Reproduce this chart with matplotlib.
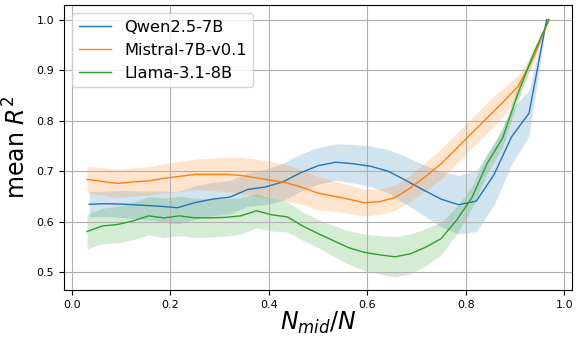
import numpy as np
import matplotlib
matplotlib.use("Agg")
import matplotlib.pyplot as plt

# Qwen2.5-7B (28 layers)
qwen_x = [i / 28 for i in range(1, 28)]
qwen_mean = [0.635, 0.636, 0.635, 0.633, 0.631, 0.628, 0.638, 0.645, 0.649, 0.664,
             0.669, 0.679, 0.697, 0.711, 0.718, 0.715, 0.710, 0.700, 0.682, 0.663,
             0.645, 0.634, 0.641, 0.693, 0.768, 0.815, 1.0]
qwen_std = [0.025, 0.025, 0.027, 0.028, 0.030, 0.032, 0.033, 0.033, 0.033, 0.033,
            0.035, 0.037, 0.037, 0.036, 0.036, 0.038, 0.040, 0.043, 0.047, 0.050,
            0.055, 0.058, 0.060, 0.060, 0.055, 0.045, 0.003]

# Mistral-7B-v0.1 (32 layers)
mistral_x = [i / 32 for i in range(1, 32)]
mistral_mean = [0.684, 0.680, 0.676, 0.679, 0.681, 0.686, 0.690, 0.694, 0.694, 0.694,
                0.692, 0.687, 0.682, 0.677, 0.668, 0.657, 0.651, 0.645, 0.638, 0.640,
                0.648, 0.667, 0.690, 0.715, 0.745, 0.776, 0.806, 0.836, 0.868, 0.925,
                1.0]
mistral_std = [0.027, 0.027, 0.028, 0.028, 0.028, 0.029, 0.030, 0.030, 0.032, 0.034,
               0.036, 0.037, 0.037, 0.036, 0.034, 0.033, 0.030, 0.028, 0.026, 0.025,
               0.025, 0.026, 0.028, 0.030, 0.030, 0.030, 0.030, 0.028, 0.022, 0.010,
               0.002]

# Llama-3.1-8B (32 layers)
llama_x = [i / 32 for i in range(1, 32)]
llama_mean = [0.581, 0.592, 0.595, 0.602, 0.612, 0.608, 0.612, 0.608, 0.608, 0.609,
              0.612, 0.622, 0.614, 0.610, 0.592, 0.577, 0.563, 0.549, 0.540, 0.535,
              0.531, 0.537, 0.550, 0.567, 0.603, 0.648, 0.716, 0.766, 0.855, 0.932,
              1.0]
llama_std = [0.034, 0.035, 0.036, 0.037, 0.038, 0.039, 0.039, 0.039, 0.038, 0.037,
             0.036, 0.034, 0.032, 0.030, 0.028, 0.028, 0.030, 0.033, 0.036, 0.038,
             0.040, 0.039, 0.037, 0.032, 0.027, 0.022, 0.020, 0.018, 0.015, 0.010,
             0.002]

series = [
    ("Qwen2.5-7B", qwen_x, qwen_mean, qwen_std, "tab:blue"),
    ("Mistral-7B-v0.1", mistral_x, mistral_mean, mistral_std, "tab:orange"),
    ("Llama-3.1-8B", llama_x, llama_mean, llama_std, "tab:green"),
]

fig = plt.figure(figsize=(5.76, 3.38), dpi=100)
ax = fig.add_axes([0.111, 0.142, 0.882, 0.843])

for name, x, m, s, c in series:
    x = np.array(x); m = np.array(m); s = np.array(s)
    ax.plot(x, m, color=c, lw=1.0, label=name)
    ax.fill_between(x, m - s, m + s, color=c, alpha=0.2, lw=0)

ax.grid(True, color="#b0b0b0", lw=0.8)
ax.set_xticks([0.0, 0.2, 0.4, 0.6, 0.8, 1.0])
ax.set_yticks([0.5, 0.6, 0.7, 0.8, 0.9, 1.0])
ax.tick_params(labelsize=8)
ax.set_xlabel(r"$N_{mid}/N$", fontsize=17, labelpad=0)
ax.set_ylabel(r"mean $R^2$", fontsize=17, labelpad=4)
ax.legend(loc="upper left", fontsize=11.7, handlelength=2.0)

fig.savefig("out.png", dpi=100)
